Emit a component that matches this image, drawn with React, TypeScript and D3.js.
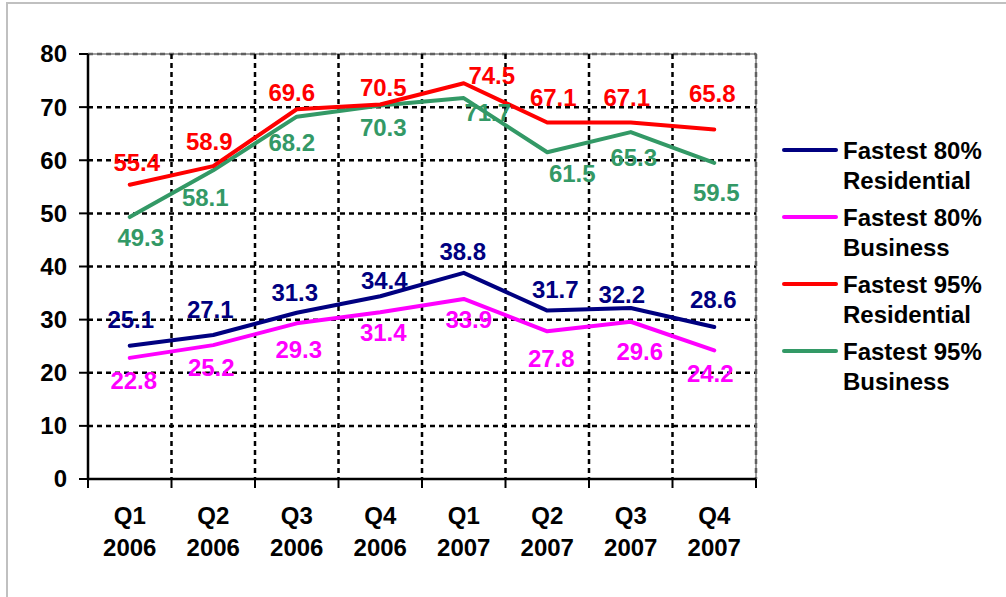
import React from 'react';
import * as d3 from 'd3';

const quarters = ['Q1', 'Q2', 'Q3', 'Q4', 'Q1', 'Q2', 'Q3', 'Q4'];
const years = ['2006', '2006', '2006', '2006', '2007', '2007', '2007', '2007'];
const yTicks = [0, 10, 20, 30, 40, 50, 60, 70, 80];

const res80 = [25.1, 27.1, 31.3, 34.4, 38.8, 31.7, 32.2, 28.6];
const bus80 = [22.8, 25.2, 29.3, 31.4, 33.9, 27.8, 29.6, 24.2];
const res95 = [55.4, 58.9, 69.6, 70.5, 74.5, 67.1, 67.1, 65.8];
const bus95 = [49.3, 58.1, 68.2, 70.3, 71.7, 61.5, 65.3, 59.5];

const series = [
  { name: ['Fastest 80%', 'Residential'], values: res80, color: '#000080' },
  { name: ['Fastest 80%', 'Business'], values: bus80, color: '#FF00FF' },
  { name: ['Fastest 95%', 'Residential'], values: res95, color: '#FF0000' },
  { name: ['Fastest 95%', 'Business'], values: bus95, color: '#339966' },
];

// hand placed label nudges (px, from point to label centre), as in the original sheet
const labelNudge = [
  [[1, -26], [-3, -25], [-2, -20], [4, -16], [-1, -21], [8, -21], [-9, -13], [-1, -27]],
  [[4, 23], [-2, 22], [2, 26], [3, 20], [5, 21], [4, 27], [9, 30], [-4, 23]],
  [[7, -22], [-4, -24], [-5, -17], [3, -17], [28, -8], [6, -25], [-4, -25], [-2, -36]],
  [[11, 21], [-8, 27], [-5, 26], [3, 22], [24, 15], [25, 21], [3, 26], [2, 30]],
];

const W = 1006;
const H = 597;
const left = 88, right = 756, top = 54, bottom = 479;
const font = '"Liberation Sans", Arial, sans-serif';

export default function App() {
  const keys = quarters.map((q, i) => q + ' ' + years[i]);
  const x = d3.scaleBand().domain(keys).range([left, right]);
  const y = d3.scaleLinear().domain([0, 80]).range([bottom, top]);
  const cx = (i: number) => (x(keys[i]) as number) + x.bandwidth() / 2;

  const line = d3.line<number>()
    .x((d, i) => cx(i))
    .y(d => y(d));

  const bounds = keys.map(k => x(k) as number).concat([right]);
  const drawOrder = [3, 2, 1, 0];

  return (
    <svg width={W} height={H} style={{ position: 'absolute', left: 0, top: 0, display: 'block' }}
      fontFamily={font} fontWeight="bold">
      <rect x={0} y={0} width={W} height={H} fill="#fff" />
      <rect x={7} y={3} width={W + 10} height={H + 10} fill="none" stroke="#c0c0c0" strokeWidth={2} />

      {/* plot area border */}
      <rect x={left} y={top} width={right - left} height={bottom - top} fill="none" stroke="#a0a0a0" strokeWidth={2} />

      {/* horizontal grid */}
      {yTicks.filter(t => t > 0).map(t => (
        <line key={'h' + t} x1={left} x2={right} y1={y(t)} y2={y(t)}
          stroke={t === 80 ? '#606060' : '#000'} strokeWidth={2.5} strokeDasharray="5,4" />
      ))}
      {/* vertical grid */}
      {bounds.slice(1).map((b, i) => (
        <line key={'v' + i} x1={b} x2={b} y1={top} y2={bottom}
          stroke={i === bounds.length - 2 ? '#606060' : '#000'} strokeWidth={2.5} strokeDasharray="5,4" />
      ))}

      {/* axes */}
      <line x1={left} x2={left} y1={top} y2={bottom + 1} stroke="#000" strokeWidth={2.5} />
      <line x1={left - 1} x2={right} y1={bottom} y2={bottom} stroke="#000" strokeWidth={2.5} />
      {yTicks.map(t => (
        <g key={'yt' + t}>
          <line x1={left - 9} x2={left} y1={y(t)} y2={y(t)} stroke="#000" strokeWidth={2} />
          <text x={67} y={y(t)} dy="0.35em" textAnchor="end" fontSize={24} fill="#000">{t}</text>
        </g>
      ))}
      {bounds.map((b, i) => (
        <line key={'xt' + i} x1={b} x2={b} y1={bottom} y2={bottom + 9} stroke="#000" strokeWidth={2} />
      ))}
      {keys.map((k, i) => (
        <text key={'xl' + i} x={cx(i)} textAnchor="middle" fontSize={24} fill="#000">
          <tspan x={cx(i)} y={524}>{quarters[i]}</tspan>
          <tspan x={cx(i)} y={556}>{years[i]}</tspan>
        </text>
      ))}

      {/* series */}
      {drawOrder.map(si => (
        <path key={'s' + si} d={line(series[si].values) || ''} fill="none" stroke={series[si].color}
          strokeWidth={4} strokeLinejoin="round" strokeLinecap="round" />
      ))}

      {/* data labels */}
      {series.map((s, si) => s.values.map((v, i) => (
        <text key={'l' + si + '-' + i} x={cx(i) + labelNudge[si][i][0]} y={y(v) + labelNudge[si][i][1]}
          dy="0.35em" textAnchor="middle" fontSize={24} fill={s.color}>{v.toFixed(1)}</text>
      )))}

      {/* legend */}
      {series.map((s, si) => (
        <g key={'lg' + si} transform={`translate(0, ${si * 67})`}>
          <line x1={784} x2={836} y1={150} y2={150} stroke={s.color} strokeWidth={4} strokeLinecap="round" />
          <text x={843} fontSize={24} fill="#000">
            <tspan x={843} y={159}>{s.name[0]}</tspan>
            <tspan x={843} y={189}>{s.name[1]}</tspan>
          </text>
        </g>
      ))}
    </svg>
  );
}
